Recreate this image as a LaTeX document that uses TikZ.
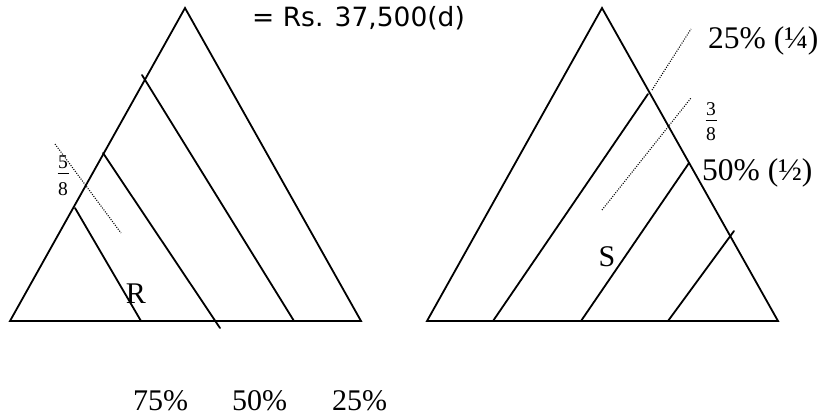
\documentclass[tikz,border=0pt]{standalone}
\usepackage{fontspec}
\setmainfont{Liberation Serif}
\newfontfamily\topfont{DejaVu Sans}
\begin{document}
\begin{tikzpicture}[x=1pt,y=-1pt,
  solidline/.style={line width=1.8pt,line cap=round},
  dotline/.style={line width=1.1pt,dash pattern=on 1pt off 1.4pt},
  big/.style={font=\fontsize{31.5}{36}\selectfont,inner sep=0pt},
  mid/.style={font=\fontsize{30}{36}\selectfont,inner sep=0pt},
  frac/.style={font=\fontsize{19.5}{22}\selectfont,inner sep=0pt},
  toptext/.style={font=\topfont\fontsize{26.5}{30}\selectfont,inner sep=0pt}]
\useasboundingbox (0,0) rectangle (822,415);
% left triangle
\coordinate (LT) at (185,8);
\coordinate (LA) at (10,321);
\coordinate (LB) at (361,321);
\draw[solidline,line join=miter] (LA) -- (LT) -- (LB) -- cycle;
\coordinate (l1a) at (142,75);  \coordinate (l1b) at (294,321);
\coordinate (l2a) at (103,153); \coordinate (l2b) at (220,328);
\coordinate (l3a) at (75,208);  \coordinate (l3b) at (141,321);
\draw[solidline] (l1a) -- (l1b);
\draw[solidline] (l2a) -- (l2b);
\draw[solidline] (l3a) -- (l3b);
\coordinate (ld1) at (55,144); \coordinate (ld2) at (121,233);
\draw[dotline] (ld1) -- (ld2);
% right triangle
\coordinate (RT) at (602,8);
\coordinate (RA) at (427,321);
\coordinate (RB) at (778,321);
\draw[solidline,line join=miter] (RA) -- (RT) -- (RB) -- cycle;
\coordinate (r1a) at (493,321); \coordinate (r1b) at (648,94);
\coordinate (r2a) at (581,321); \coordinate (r2b) at (689,163);
\coordinate (r3a) at (668,321); \coordinate (r3b) at (734,231);
\draw[solidline] (r1a) -- (r1b);
\draw[solidline] (r2a) -- (r2b);
\draw[solidline] (r3a) -- (r3b);
\coordinate (rd1a) at (652,90);  \coordinate (rd1b) at (691,29);
\coordinate (rd2a) at (602,210); \coordinate (rd2b) at (691,98);
\draw[dotline] (rd1a) -- (rd1b);
\draw[dotline] (rd2a) -- (rd2b);
% texts
\node[toptext,anchor=base west] (top) at (252,27) {= Rs. 37,500(d)};
\node[big,anchor=base west] (q1) at (708,48) {25\% (¼)};
\node[big,anchor=base west] (q2) at (702,180) {50\% (½)};
\node[mid,anchor=base] (R) at (136,303) {R};
\node[mid,anchor=base] (S) at (607,266) {S};
\node[mid,anchor=base west] (p75) at (133,410) {75\%};
\node[mid,anchor=base west] (p50) at (232,410) {50\%};
\node[mid,anchor=base west] (p25) at (332,410) {25\%};
% fractions
\node[frac,anchor=base] (n5) at (63,168) {5};
\node[frac,anchor=base] (d8a) at (63,195) {8};
\draw[line width=0.8pt] (57.5,173) -- (68.5,173);
\node[frac,anchor=base] (n3) at (711,115) {3};
\node[frac,anchor=base] (d8b) at (711,140) {8};
\draw[line width=0.8pt] (705.5,120) -- (716.5,120);
\end{tikzpicture}
\end{document}
